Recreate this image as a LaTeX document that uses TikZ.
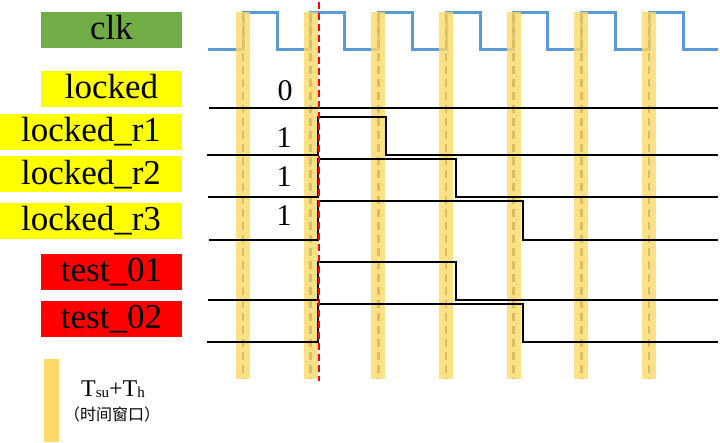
\documentclass[tikz,border=0pt]{standalone}
\usepackage{fontspec}
\setmainfont{Liberation Serif}
\newfontfamily\cjk{Noto Sans CJK SC}
\definecolor{clkgreen}{HTML}{70AD47}
\definecolor{sigyellow}{HTML}{FFFF00}
\definecolor{sigred}{HTML}{FF0000}
\definecolor{clkblue}{HTML}{5B9BD5}
\definecolor{winyellow}{HTML}{FFD966}
\definecolor{wintan}{HTML}{D8BE64}
\begin{document}
\begin{tikzpicture}[x=1pt,y=-1pt,
  lab/.style={inner sep=0pt, minimum height=36pt, text height=25pt, text depth=5pt,
    font=\fontsize{35}{40}\selectfont},
  val/.style={inner sep=0pt, anchor=base, font=\fontsize{30}{32}\selectfont},
  wave/.style={line width=2.2pt, black, line join=miter},
  clkline/.style={line width=3pt, clkblue},
  winbar/.style={fill=winyellow, fill opacity=0.8, draw=none},
  winmid/.style={line width=2.5pt, wintan, dash pattern=on 8pt off 5pt},
  trig/.style={line width=2pt, sigred, dash pattern=on 7pt off 4pt}]
\useasboundingbox (0,0) rectangle (720,443);

% labels
\node[lab, fill=clkgreen, minimum width=141pt] (clk) at (111.5,30) {clk};
\node[lab, fill=sigyellow, minimum width=141pt] (locked) at (111.5,89) {locked};
\node[lab, fill=sigyellow, minimum width=182pt] (r1) at (91,132) {locked\_r1};
\node[lab, fill=sigyellow, minimum width=182pt] (r2) at (91,174.5) {locked\_r2};
\node[lab, fill=sigyellow, minimum width=182pt] (r3) at (91,221) {locked\_r3};
\node[lab, fill=sigred, minimum width=141pt] (t1) at (111.5,272) {test\_01};
\node[lab, fill=sigred, minimum width=141pt] (t2) at (111.5,319) {test\_02};

% clock
\draw[clkline] (208,50)
  \foreach \k in {0,...,6} {
    -- ({243+67.67*\k},50) -- ({243+67.67*\k},12.5)
    -- ({277+67.67*\k},12.5) -- ({277+67.67*\k},50)
  } -- (718,50);

% window bars
\foreach \k in {0,...,6} {
  \fill[winbar] ({236+67.67*\k},12) rectangle ({250+67.67*\k},379);
  \draw[winmid] ({243+67.67*\k},14) -- ({243+67.67*\k},379);
}

% waveforms
\draw[wave] (209,108) -- (718,108);
\draw[wave] (207,155) -- (318,155) -- (318,117) -- (386,117) -- (386,155) -- (718,155);
\draw[wave] (208,197) -- (318,197) -- (318,159) -- (456,159) -- (456,197) -- (718,197);
\draw[wave] (209,240) -- (318,240) -- (318,201) -- (523,201) -- (523,240) -- (718,240);
\draw[wave] (208,300) -- (318,300) -- (318,262) -- (456,262) -- (456,300) -- (718,300);
\draw[wave] (207,342) -- (318,342) -- (318,304) -- (523,304) -- (523,342) -- (718,342);

% values
\node[val] (v0) at (285,101) {0};
\node[val] (v1) at (284,148) {1};
\node[val] (v2) at (284,187) {1};
\node[val] (v3) at (284,226) {1};

% trigger line
\draw[trig] (319,2) -- (319,381);

% legend
\fill[winyellow] (44,359) rectangle (59,442);
\node[inner sep=0pt, anchor=base, font=\fontsize{24}{26}\selectfont] (leg1) at (113,396)
  {T{\fontsize{15}{16}\selectfont\raisebox{-1pt}{su}}+T{\fontsize{15}{16}\selectfont\raisebox{-1pt}{h}}};
\node[inner sep=0pt, font=\cjk\fontsize{16}{18}\selectfont] (leg2) at (112,414) {（时间窗口）};
\end{tikzpicture}
\end{document}
